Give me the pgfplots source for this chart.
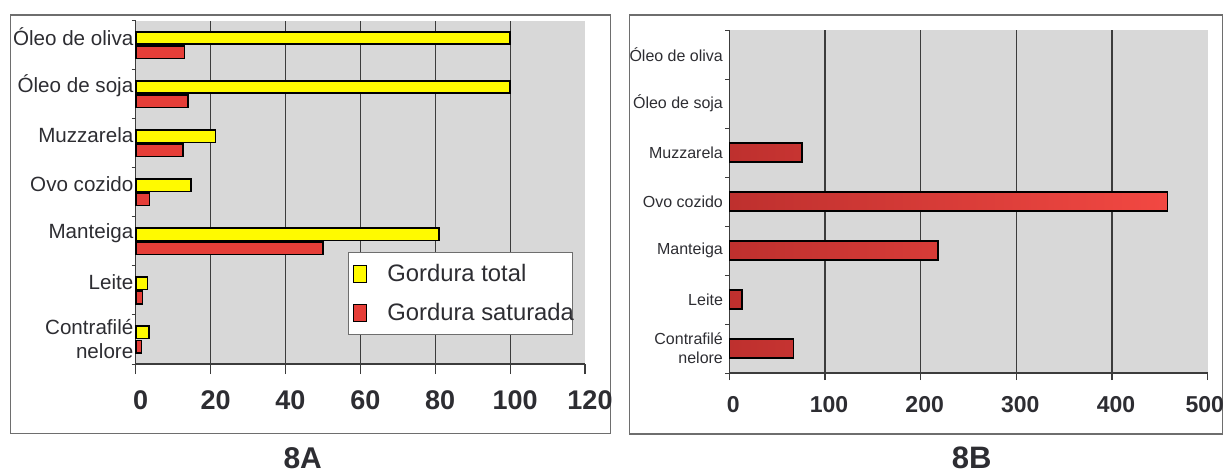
\documentclass[border=0pt]{standalone}
\usepackage{fontspec}
\setmainfont{Liberation Sans}
\usepackage{pgfplots}
\pgfplotsset{compat=1.18}

\definecolor{barYellow}{RGB}{255,250,0}
\definecolor{barRed}{RGB}{230,62,56}
\definecolor{barRedDark}{RGB}{190,48,46}
\definecolor{barRedLight}{RGB}{242,72,66}
\definecolor{stipple}{RGB}{216,216,216}
\definecolor{gridGray}{RGB}{60,60,60}
\definecolor{frameGray}{RGB}{110,110,110}
\definecolor{inkGray}{RGB}{45,45,50}

\pgfplotsset{
  panel/.style={
    scale only axis, anchor=south west,
    axis x line=bottom, axis y line=left,
    axis line style={-, draw=gridGray, line width=0.7pt},
    axis background/.style={fill=stipple},
    xmin=0, ymin=-0.5, ymax=6.5,
    xmajorgrids, grid style={gridGray, line width=0.6pt},
    tick align=outside,
    major x tick style={draw=gridGray, line width=0.6pt},
    major y tick style={draw=none},
    minor ytick={-0.5,0.5,...,6.5},
    minor y tick style={draw=gridGray, line width=0.5pt},
    minor tick length=2pt,
    /pgf/number format/assume math mode=true,
    xticklabel style={text=inkGray, anchor=center},
    yticklabel style={text=inkGray, align=right},
    clip=false,
  },
}

\begin{document}
\begin{tikzpicture}
\useasboundingbox (0,0) rectangle (613.5pt,236.5pt);

% outer frames of the two panels
\draw[frameGray, line width=0.6pt] (5.35pt,19.75pt) rectangle (305.35pt,229pt);
\draw[frameGray, line width=0.6pt] (314.65pt,19.5pt) rectangle (611.15pt,229pt);

% ---- 8A: total and saturated fat
\begin{axis}[panel,
  at={(67.85pt,54.5pt)}, width=224.65pt, height=171.75pt,
  xmax=120, xtick={0,20,...,100},
  extra x ticks={120}, extra x tick style={grid=none},
  major tick length=5pt,
  xticklabel style={font=\bfseries\fontsize{13.5}{14}\selectfont, yshift=-13pt, xshift=2.5pt},
  ytick={1,...,6},
  yticklabels={Leite, Manteiga, Ovo cozido, Muzzarela, Óleo de soja, Óleo de oliva},
  yticklabel style={font=\fontsize{10.3}{12}\selectfont, inner xsep=1pt, xshift=5pt, yshift=4pt},
  extra y ticks={0},
  extra y tick labels={Contrafilé\\nelore},
  extra y tick style={yticklabel style={yshift=-4pt}},
  legend style={at={(rel axis cs:0.473,0.325)}, anchor=north west,
    draw=frameGray, fill=white, line width=0.5pt,
    font=\fontsize{11.9}{13}\selectfont, text=inkGray,
    inner xsep=1pt, inner ysep=3pt, row sep=4.4pt,
    nodes={inner sep=2.5pt}},
  legend cell align=left,
  legend image code/.code={
    \draw[#1, line width=0.7pt] (1.5pt,-4.15pt) rectangle (8pt,4.15pt);
    \path[draw=none, fill=none] (0pt,0pt) -- (15.85pt,0pt);},
]
\addplot[xbar, bar width=6.25pt, bar shift=3.55pt, fill=barYellow, draw=black, line width=0.8pt]
  coordinates {(3.6,0) (3.2,1) (81,2) (14.8,3) (21.3,4) (100,5) (100,6)};
\addplot[xbar, bar width=6.25pt, bar shift=-3.55pt, fill=barRed, draw=black, line width=0.8pt]
  coordinates {(1.5,0) (1.8,1) (50,2) (3.7,3) (12.6,4) (14,5) (13,6)};
\legend{\makebox[89pt][l]{Gordura total}, \makebox[89pt][l]{Gordura saturada}}
\end{axis}

% ---- 8B: cholesterol
\begin{axis}[panel,
  at={(364.65pt,50pt)}, width=239.2pt, height=171.5pt,
  xmax=500, xtick={0,100,...,400},
  extra x ticks={500},
  extra x tick style={grid=none, xticklabel style={xshift=-3.5pt}},
  major tick length=3.5pt,
  xticklabel style={font=\bfseries\fontsize{11.5}{12}\selectfont, yshift=-12.5pt, xshift=2pt},
  ytick={0,...,6},
  yticklabels={Contrafilé\\nelore, Leite, Manteiga, Ovo cozido, Muzzarela, Óleo de soja, Óleo de oliva},
  yticklabel style={font=\fontsize{8}{9.5}\selectfont, inner xsep=2.5pt, xshift=3pt},
]
\addplot[xbar, bar width=9.5pt, bar shift=0pt, left color=barRedDark, right color=barRedLight, draw=black, line width=0.8pt]
  coordinates {(67,0) (13,1) (218,2) (458,3) (76,4)};
\end{axis}

% panel captions
\node[inner sep=0pt, text=inkGray, font=\bfseries\fontsize{15}{18}\selectfont] at (151.35pt,7.4pt) {8A};
\node[inner sep=0pt, text=inkGray, font=\bfseries\fontsize{15.5}{18}\selectfont] at (485.85pt,7.4pt) {8B};
\end{tikzpicture}
\end{document}
